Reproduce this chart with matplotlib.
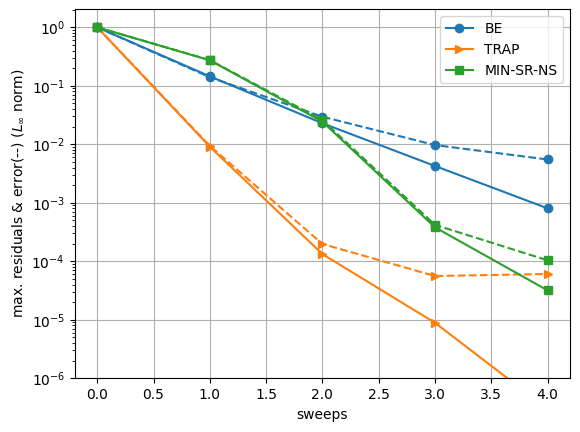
import numpy as np
import matplotlib
matplotlib.use("Agg")
import matplotlib.pyplot as plt

# sweeps
sweeps = [0, 1, 2, 3, 4]

# residuals (solid)
res_be = [1.0, 0.145, 0.0229, 4.26e-3, 8.05e-4]
res_trap = [1.0, 9.1e-3, 1.33e-4, 8.9e-6, 3.0e-7]
res_minsr = [1.0, 0.273, 0.0244, 3.81e-4, 3.19e-5]

# errors (dashed)
err_be = [1.0, 0.14, 0.0296, 9.7e-3, 5.5e-3]
err_trap = [1.0, 9.4e-3, 1.98e-4, 5.6e-5, 6.07e-5]
err_minsr = [1.0, 0.275, 0.026, 4.2e-4, 1.04e-4]

labels = ["BE", "TRAP", "MIN-SR-NS"]
colors = ["C0", "C1", "C2"]
markers = ["o", ">", "s"]

fig, ax = plt.subplots(figsize=(5.8, 4.32), dpi=100)
fig.subplots_adjust(left=0.1288, right=0.9828, top=0.9785, bottom=0.1243)

for res, err, lab, c, m in zip([res_be, res_trap, res_minsr],
                               [err_be, err_trap, err_minsr],
                               labels, colors, markers):
    ax.semilogy(sweeps, res, "-", color=c, marker=m, label=lab)
    ax.semilogy(sweeps, err, "--", color=c, marker=m)

ax.set_ylim(1e-6, 2.03)
ax.grid(True)
ax.set_xlabel("sweeps")
ax.set_ylabel(r"max. residuals & error(--) ($L_\infty$ norm)")
ax.legend(loc="upper right")

fig.savefig("out.png", dpi=100)
